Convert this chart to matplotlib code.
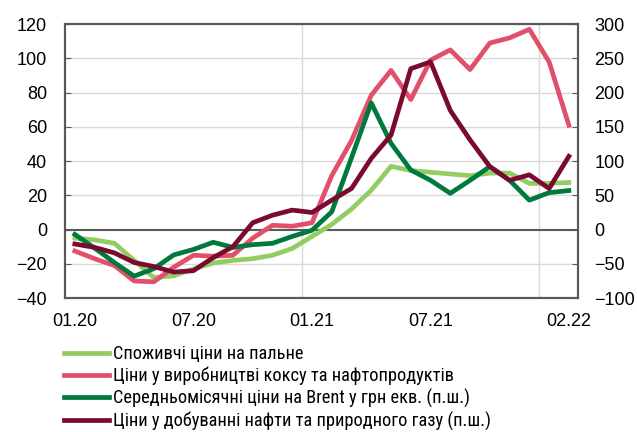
import matplotlib
matplotlib.use('Agg')
import matplotlib.pyplot as plt
from matplotlib import font_manager

# monthly data 01.20 .. 02.22
months = ['01.20', '02.20', '03.20', '04.20', '05.20', '06.20', '07.20', '08.20', '09.20',
          '10.20', '11.20', '12.20', '01.21', '02.21', '03.21', '04.21', '05.21', '06.21',
          '07.21', '08.21', '09.21', '10.21', '11.21', '12.21', '01.22', '02.22']
fuel_cpi = [-5, -6, -8, -18, -28, -27, -23, -19.5, -18, -17, -15, -11, -4,
            3, 12, 23, 37, 34.5, 33.5, 32.5, 31.5, 33, 33, 27, 27, 27.5]
coke_ppi = [-12.5, -17, -21, -30, -30.5, -22, -15, -15.5, -15, -5, 2.5, 2, 4,
            31.5, 52, 78.5, 93, 76, 99, 105, 93.5, 109, 112, 117, 98, 61]
brent_uah = [-7, -27, -48, -68, -57, -37, -29, -18.5, -26, -22, -20, -10, -1,
             26, 105, 185, 126, 87, 72, 53, 72, 92, 72, 43, 54, 57]
extract_ppi = [-21, -26, -34, -48, -54, -62, -60, -41, -25, 10, 21, 28.5, 25,
               43, 60, 104, 138, 235, 245, 174, 131, 92, 72, 80, 60, 107]

labels = ['Споживчі ціни на пальне',
          'Ціни у виробництві коксу та нафтопродуктів',
          'Середньомісячні ціни на Brent у грн екв. (п.ш.)',
          'Ціни у добуванні нафти та природного газу (п.ш.)']
tick_idx = [0, 6, 12, 18, 25]
year_breaks = [11.5, 23.5]

plt.rcParams['font.family'] = ['Liberation Sans', 'DejaVu Sans']

# narrow face for the legend, like Arial Narrow
names = {f.name for f in font_manager.fontManager.ttflist}
legend_family = 'Liberation Sans'
for cand in ['Liberation Sans Narrow', 'Arial Narrow', 'Roboto Condensed', 'PT Sans Narrow']:
    if cand in names:
        legend_family = cand
        break

c_light = '#92cd62'
c_pink = '#e0506a'
c_dgreen = '#00793d'
c_dred = '#7a0a30'
axis_c = '#595959'
grid_c = '#d9d9d9'

fig = plt.figure(figsize=(6.37, 4.32), dpi=100)
ax = fig.add_axes([0.102, 0.310, 0.805, 0.634])
ax2 = ax.twinx()

x = list(range(len(months)))

for yv in range(-40, 121, 20):
    if yv == 0:
        continue
    ax.axhline(yv, color=grid_c, lw=1.0, zorder=0)
for xb in year_breaks:
    ax.axvline(xb, color=grid_c, lw=1.0, zorder=0)
ax.axhline(0, color=axis_c, lw=1.5, zorder=1)

l1, = ax.plot(x, fuel_cpi, color=c_light, lw=3.4, zorder=2)
l2, = ax.plot(x, coke_ppi, color=c_pink, lw=3.4, zorder=3)
l3, = ax2.plot(x, brent_uah, color=c_dgreen, lw=3.4, zorder=2)
l4, = ax2.plot(x, extract_ppi, color=c_dred, lw=3.4, zorder=3)

ax.set_xlim(-0.5, 25.45)
ax.set_ylim(-40, 120)
ax2.set_ylim(-100, 300)
ax.set_yticks(range(-40, 121, 20))
ax2.set_yticks(range(-100, 301, 50))
ax.set_xticks(tick_idx)
ax.set_xticklabels([months[i] for i in tick_idx])

for a in (ax, ax2):
    for s in a.spines.values():
        s.set_color(axis_c)
        s.set_linewidth(1.5)
ax.tick_params(axis='y', direction='in', length=4, color=axis_c, labelsize=13, pad=13)
ax2.tick_params(axis='y', direction='in', length=4, color=axis_c, labelsize=13, pad=12)
ax.tick_params(axis='x', length=0, labelsize=13, pad=11)

fig.legend([l1, l2, l3, l4], labels, loc='upper left', bbox_to_anchor=(0.086, 0.222),
           frameon=False, borderpad=0, handlelength=2.45, handletextpad=0.2,
           labelspacing=0.19, prop={'family': [legend_family, 'DejaVu Sans'], 'size': 13.2})

fig.savefig('out.png', dpi=100)
